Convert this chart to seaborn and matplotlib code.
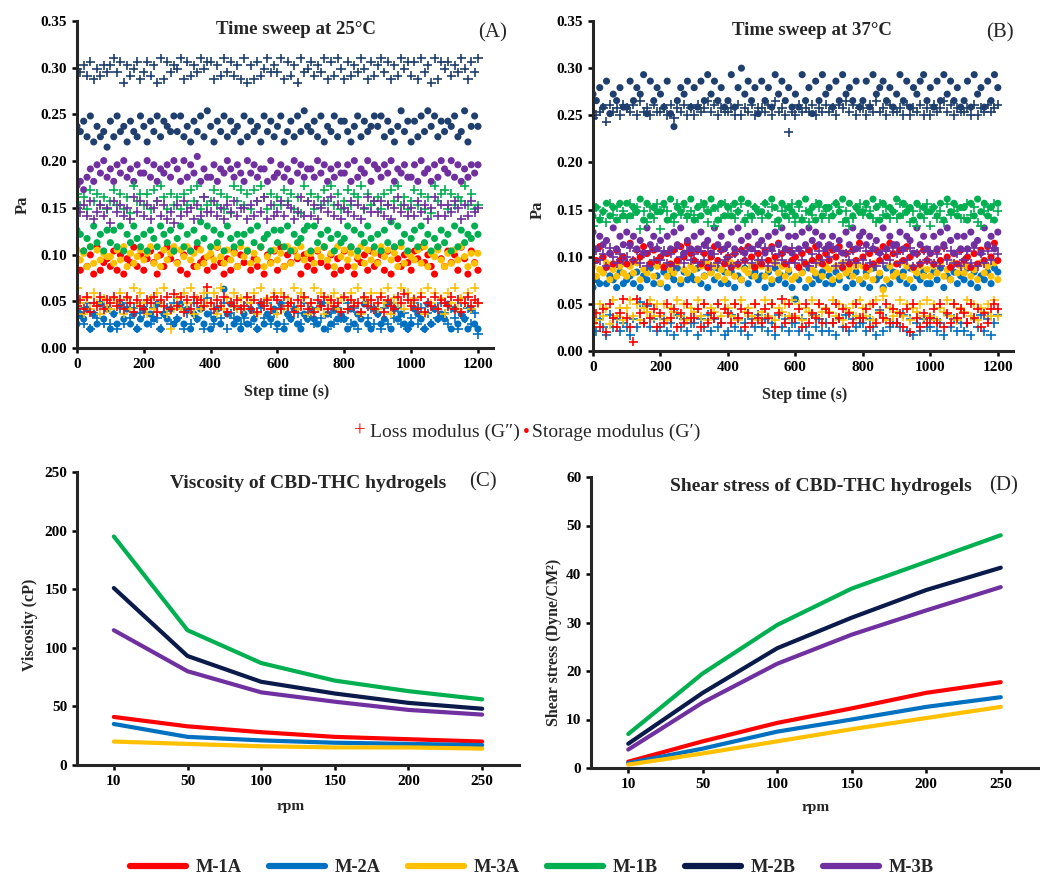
import numpy as np
import pandas as pd
import matplotlib
matplotlib.use("Agg")
import matplotlib.pyplot as plt
from matplotlib.lines import Line2D
import seaborn as sns

samples = ["M-1A", "M-2A", "M-3A", "M-1B", "M-2B", "M-3B"]
line_colors = {"M-1A": "#FF0000", "M-2A": "#0070C0", "M-3A": "#FFC000",
               "M-1B": "#00B050", "M-2B": "#0A1A4A", "M-3B": "#7030A0"}
dot_colors = dict(line_colors, **{"M-2B": "#1F3F6E"})

rpm = ["10", "50", "100", "150", "200", "250"]
viscosity = {
    "M-1A": [41, 33, 28, 24, 22, 20],
    "M-2A": [35, 24, 21, 19, 18, 17],
    "M-3A": [20, 18, 16, 15, 15, 14],
    "M-1B": [195, 115, 87, 72, 63, 56],
    "M-2B": [151, 93, 71, 61, 53, 48],
    "M-3B": [115, 80, 62, 54, 47, 43],
}
shear = {
    "M-1A": [1.3, 5.5, 9.3, 12.3, 15.5, 17.7],
    "M-2A": [1.0, 4.0, 7.5, 10.0, 12.6, 14.6],
    "M-3A": [0.7, 3.0, 5.5, 8.0, 10.3, 12.6],
    "M-1B": [7.0, 19.5, 29.5, 37.0, 42.5, 48.0],
    "M-2B": [5.0, 15.5, 24.7, 31.0, 36.7, 41.3],
    "M-3B": [3.8, 13.5, 21.5, 27.5, 32.5, 37.3],
}

# time sweeps, one reading every 10 s; each digit d -> lo + d*(hi-lo)/9
storage_25 = {
    "M-2A": (0.015, 0.063, "2435142635 1426352413 5243614352 3625143524 1352946231 4253162435 2614352143 5326142534 3152436215 4236153421 2543162534 3615243152 1"),
    "M-1A": (0.075, 0.112, "5273618245 3726154836 2574163857 4261738452 6384152736 4725381647 2836475163 5274836152 7381546273 4627185364 2758463185 3746285174 2"),
    "M-3A": (0.080, 0.112, "7462837465 5374826357 4683527468 3758462735 6485374628 5736482537 4628375846 6375846285 7462583746 3857462836 5473826574 2637485263 6"),
    "M-1B": (0.095, 0.135, "7625384627 4738264853 6275386472 5836274958 3746285364 6274835627 4738264578 2846375264 5837264853 6274938462 5738462537 4628374658 6"),
    "M-3B": (0.165, 0.205, "2314637584 6375846375 5847365748 6384759364 4736586475 3857466384 5746385746 6485736475 5738465837 6475836574 4738563748 6584736475 7"),
    "M-2B": (0.215, 0.265, "4352614230 5263415326 4153625436 3624153627 4153625341 6253416352 4613526374 3526143625 5314625346 4625314735 1526374625 3546237146 4"),
}
loss_25 = {
    "M-2A": (0.015, 0.065, "3526143625 2415263514 4625314526 3514263517 4253614352 3624153624 1526354263 4253614253 3625147352 4152635241 3625142536 4253163524 0"),
    "M-3A": (0.020, 0.070, "8536475364 4657364857 5364758304 6475836475 5738465746 4657385647 3746584763 5847365746 6475836574 4758365847 5647385746 3758465748 5"),
    "M-1A": (0.035, 0.065, "3526143625 4635264153 2546153627 3615264539 4253614352 3625143526 5263415362 4153625341 6253416352 4615326475 3526143625 4362514635 4"),
    "M-1B": (0.140, 0.178, "6352746352 4736251846 3627485263 5263748253 4736251847 3627485263 5374625184 6253748362 4736582634 5263748352 4736251846 7263548362 3"),
    "M-3B": (0.130, 0.165, "5463724635 1746352847 3625736241 6374526384 4735264735 5263748263 4736524837 3625748362 5473625847 4736258463 5374625836 3647526374 5"),
    "M-2B": (0.280, 0.314, "5463725364 6847163572 4736182746 5827364857 7263847362 8162735846 4827361845 7364827385 2736485273 6847263857 3728461827 5736485274 8"),
}
storage_37 = {
    "M-2A": (0.055, 0.092, "3547465374 5647365846 4736584756 5846375847 4736584675 6374856473 0573846574 6475836475 4738563847 6574836574 4758365746 5847365748 7"),
    "M-3A": (0.065, 0.097, "7465836475 4758365847 2746583657 6374857463 5847365748 7463857463 4758365847 6374856473 7463850374 5847365746 4758463857 5746385748 3"),
    "M-1A": (0.085, 0.118, "6374152634 2836475263 4152637485 3625147362 4152637415 2637485263 4152637425 3647152638 4152637485 2637415263 5263741526 3415263748 3"),
    "M-3B": (0.095, 0.135, "7364528364 7463528463 5263748253 6374528463 4738526374 5263748362 6374857463 4635274836 7463528364 4736528463 2637485263 6374528463 7"),
    "M-1B": (0.130, 0.170, "3524635263 6354726354 4627354637 2536475263 5364726354 4637526354 3627452635 5364726354 4637526354 7364526354 4536274635 5263746352 6"),
    "M-2B": (0.238, 0.300, "5463725463 3746582746 5372046573 6374857463 4836957462 7463857463 5384627485 6374856473 4738567463 5847365784 6374857463 4738563748 6"),
}
loss_37 = {
    "M-2A": (0.012, 0.052, "4253163524 3153948352 3524163524 4153625341 2635241536 3524163524 4253163524 2415362534 4253172534 4362514253 3524163524 2415362514 6"),
    "M-3A": (0.020, 0.058, "5374628463 6847365847 4736584736 5847365748 6473856473 5847365748 4736584756 5847365748 6473859364 5847365748 4736584736 5847365748 4"),
    "M-1A": (0.010, 0.055, "4637285369 5309648573 6485736485 5738465847 6485736485 4758369485 5738465847 6485736485 5738465847 4637285364 5748364857 6485736478 7"),
    "M-3B": (0.083, 0.113, "3746285364 5847362748 4736285374 6374826374 5263748374 4827364738 3748263748 5827364738 4738263748 6374826374 7362847362 4738263748 6"),
    "M-1B": (0.125, 0.160, "2746385746 4857163748 1764385746 5487362748 5746835476 4857326748 3746358746 4587362478 5764385746 4857362748 2746385674 4857326748 6"),
    "M-2B": (0.232, 0.265, "4567386758 7685967586 6758476857 5867968576 6758576857 7685967506 5867685768 6758796857 7586967586 6758576857 5867968576 6758576867 8"),
}


def decode(lo, hi, digits):
    d = np.array([int(c) for c in digits.replace(" ", "")])
    return lo + d * (hi - lo) / 9


def sweep_frame(series):
    frames = []
    for name, (lo, hi, digits) in series.items():
        vals = decode(lo, hi, digits)
        frames.append(pd.DataFrame({"t": np.arange(len(vals)) * 10, "Pa": vals, "sample": name}))
    return pd.concat(frames, ignore_index=True)


sns.set_theme(style="ticks")
plt.rcParams["font.family"] = ["Liberation Serif", "DejaVu Serif"]
plt.rcParams["axes.linewidth"] = 2.2
plt.rcParams["xtick.major.width"] = 1.8
plt.rcParams["ytick.major.width"] = 1.8
plt.rcParams["xtick.major.size"] = 3.5
plt.rcParams["ytick.major.size"] = 3.5
plt.rcParams["xtick.color"] = "black"
plt.rcParams["ytick.color"] = "black"

fig = plt.figure(figsize=(10.4, 8.77), dpi=100)
W, H = 1040, 877


def box(left, right, top, bottom):
    return [left / W, 1 - bottom / H, (right - left) / W, (bottom - top) / H]


axA = fig.add_axes(box(77, 493, 21, 348))
axB = fig.add_axes(box(593, 1013, 21, 351))
axC = fig.add_axes(box(77, 519, 472, 765))
axD = fig.add_axes(box(591, 1038, 477, 768))

tick_font = dict(fontsize=11, fontweight="bold")

for ax, stor, loss, title, tag, tpos, tagpos, ylab_y in [
    (axA, storage_25, loss_25, "Time sweep at 25\u00b0C", "(A)", (0.526, 0.975), (1.0, 0.963), 0.437),
    (axB, storage_37, loss_37, "Time sweep at 37\u00b0C", "(B)", (0.521, 0.97), (0.969, 0.964), 0.427),
]:
    sns.scatterplot(data=sweep_frame(stor), x="t", y="Pa", hue="sample", palette=dot_colors,
                    marker="o", s=26, linewidth=0, legend=False, ax=ax)
    sns.scatterplot(data=sweep_frame(loss), x="t", y="Pa", hue="sample", palette=dot_colors,
                    marker="+", s=44, linewidth=1.2, legend=False, ax=ax)
    ax.set_xlim(0, 1245)
    ax.set_ylim(0, 0.35)
    ax.set_xticks(range(0, 1201, 200))
    ax.set_yticks(np.arange(0, 0.351, 0.05))
    ax.set_yticklabels([f"{v:.2f}" for v in np.arange(0, 0.351, 0.05)], **tick_font)
    ax.set_xticklabels([str(v) for v in range(0, 1201, 200)], **tick_font)
    ax.set_xlabel("Step time (s)", fontsize=11.5, fontweight="bold")
    ax.set_ylabel("Pa", fontsize=12, fontweight="bold")
    ax.xaxis.set_label_coords(0.505, -0.11)
    ax.yaxis.set_label_coords(-0.112, ylab_y)
    ax.text(*tpos, title, transform=ax.transAxes, ha="center", va="center",
            fontsize=13.6, fontweight="bold")
    ax.text(*tagpos, tag, transform=ax.transAxes, ha="center", va="center", fontsize=15)
    sns.despine(ax=ax)

for ax, data, ylim, step, ylab, title, tag, tpos, tagpos, ylab_xy, rpm_xy in [
    (axC, viscosity, 250, 50, "Viscosity (cP)", "Viscosity of CBD-THC hydrogels", "(C)",
     (0.523, 0.962), (0.919, 0.966), (-0.088, 0.478), (0.484, -0.12)),
    (axD, shear, 60, 10, "Shear stress (Dyne/CM\u00b2)", "Shear stress of CBD-THC hydrogels", "(D)",
     (0.515, 0.966), (0.922, 0.969), (-0.064, 0.43), (0.503, -0.113)),
]:
    frame = pd.DataFrame([(s, i, v) for s in samples for i, v in enumerate(data[s])],
                         columns=["sample", "pos", "value"])
    sns.lineplot(data=frame, x="pos", y="value", hue="sample", palette=line_colors,
                 linewidth=3.0, legend=False, ax=ax)
    ax.set_xlim(-0.5, 5.5)
    ax.set_ylim(0, ylim)
    ax.set_xticks(range(len(rpm)))
    ax.set_xticklabels(rpm, **tick_font)
    ax.set_yticks(range(0, ylim + 1, step))
    ax.set_yticklabels([str(v) for v in range(0, ylim + 1, step)], **tick_font)
    ax.set_xlabel("rpm", fontsize=11, fontweight="bold")
    ax.set_ylabel(ylab, fontsize=11.5, fontweight="bold")
    ax.xaxis.set_label_coords(*rpm_xy)
    ax.yaxis.set_label_coords(*ylab_xy)
    ax.text(*tpos, title, transform=ax.transAxes, ha="center", va="center",
            fontsize=14, fontweight="bold")
    ax.text(*tagpos, tag, transform=ax.transAxes, ha="center", va="center", fontsize=15)
    sns.despine(ax=ax)

# marker key between the two rows
ky = 1 - 432 / H
fig.text(354 / W, ky, "+", color="#FF0000", fontsize=15, ha="left", va="center")
fig.text(370 / W, ky, "Loss modulus (G\u2033)", fontsize=14, ha="left", va="center")
fig.text(523 / W, ky, "\u2022", color="#FF0000", fontsize=14, ha="left", va="center")
fig.text(532 / W, ky, "Storage modulus (G\u2032)", fontsize=14, ha="left", va="center")

handles = [Line2D([], [], color=line_colors[s], linewidth=4.5) for s in samples]
fig.legend(handles, samples, loc="center", bbox_to_anchor=(532 / W, 1 - 868 / H), ncol=6,
           frameon=False, handlelength=3.0, handletextpad=0.55, columnspacing=1.48,
           prop=dict(size=13.3, weight="bold"))

fig.savefig("out.png", dpi=100)
